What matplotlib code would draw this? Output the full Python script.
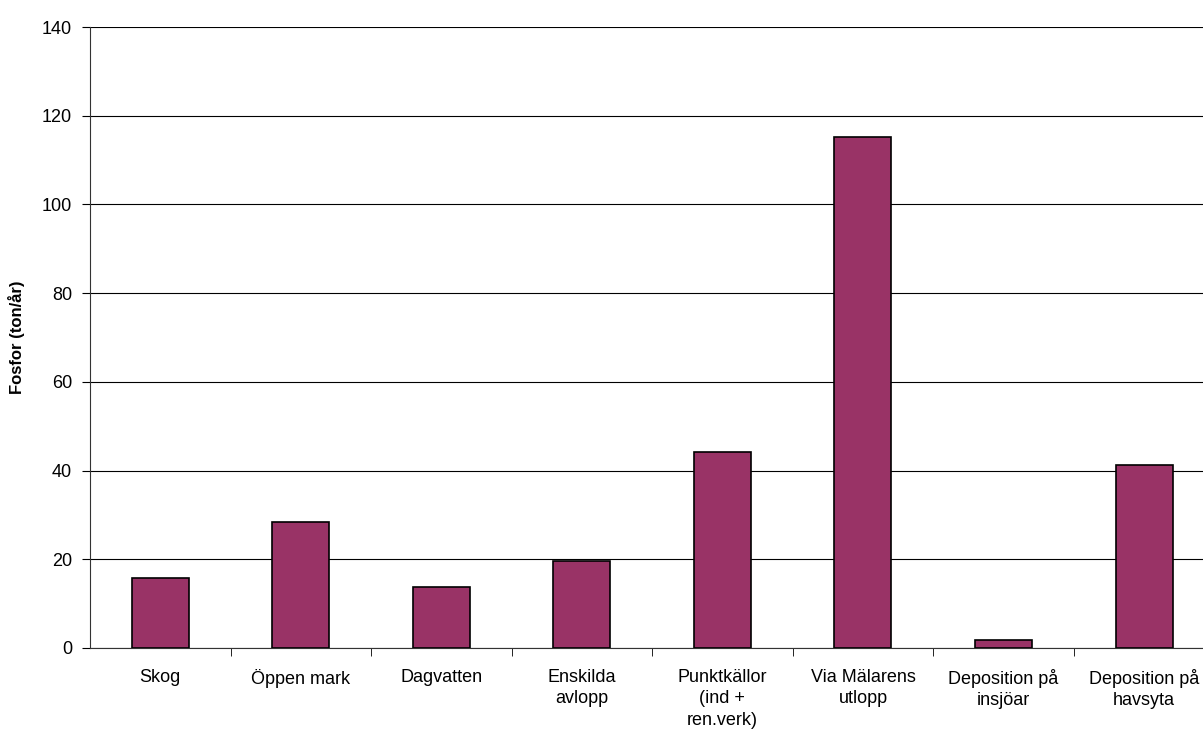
import numpy as np
import matplotlib.pyplot as plt

plt.rcParams['font.family'] = ['Liberation Sans', 'DejaVu Sans']

categories = ['Skog', 'Öppen mark', 'Dagvatten', 'Enskilda\navlopp',
              'Punktkällor\n(ind +\nren.verk)', 'Via Mälarens\nutlopp',
              'Deposition på\ninsjöar', 'Deposition på\nhavsyta']
values = [15.8, 28.5, 13.8, 19.7, 44.1, 115.3, 1.8, 41.3]
yticks = [0, 20, 40, 60, 80, 100, 120, 140]

fig = plt.figure(figsize=(12.03, 7.36), dpi=100)
# the original chart is cut off on the right, so the axes run past the figure edge
ax = fig.add_axes([0.0748, 0.1196, 0.9346, 0.8437])

x = np.arange(len(categories))
ax.bar(x, values, width=0.406, color='#993366', edgecolor='black', linewidth=1.2, zorder=3)

ax.set_xlim(-0.5, len(categories) - 0.5)
ax.set_ylim(0, 140)
ax.set_yticks(yticks)
ax.set_yticklabels([str(v) for v in yticks], fontsize=13)
ax.yaxis.grid(True, color='black', linewidth=0.8, zorder=0)

ax.set_xticks(x)
ax.set_xticklabels(categories, fontsize=13, linespacing=1.35)
ax.tick_params(axis='x', length=0, pad=15)
ax.set_xticks(np.arange(len(categories)) + 0.5, minor=True)
ax.tick_params(axis='x', which='minor', length=6, direction='out')
ax.tick_params(axis='y', length=6, direction='out', pad=7)

for s in ['top', 'right']:
    ax.spines[s].set_visible(False)
ax.spines['left'].set_color('#333333')
ax.spines['bottom'].set_color('#333333')

ax.set_ylabel('Fosfor (ton/år)', fontsize=12, fontweight='bold', labelpad=12)

fig.savefig('out.png', dpi=100)
